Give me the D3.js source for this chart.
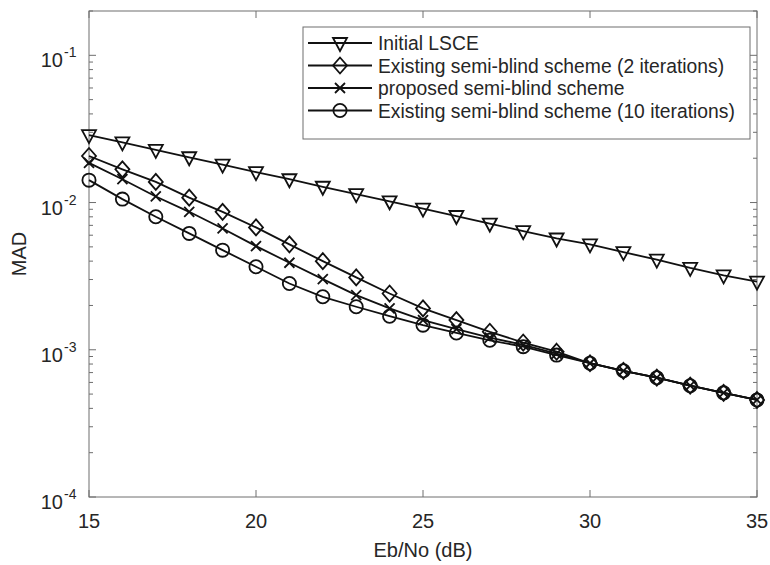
<!DOCTYPE html>
<html>
  <head>
    <script src="https://d3js.org/d3.v7.min.js"></script>
    <style>
      body { margin: 0; background: #fff; }
      text { font-family: "Liberation Sans", Arial, sans-serif; fill: #262626; }
    </style>
  </head>
  <body>
    <script>

    // Eb/No values (dB)
    const ebno = [15, 16, 17, 18, 19, 20, 21, 22, 23, 24, 25, 26, 27, 28, 29, 30, 31, 32, 33, 34, 35];

    const initialLSCE = [0.0287, 0.0256, 0.0228, 0.0203, 0.0181, 0.0161, 0.0144, 0.0128, 0.0114, 0.0102, 0.0091,
      0.0081, 0.0072, 0.0064, 0.0057, 0.0052, 0.0046, 0.0041, 0.0036, 0.0032, 0.0029];
    const existing2 = [0.0207, 0.0168, 0.0138, 0.0108, 0.00865, 0.00678, 0.0052, 0.0040, 0.0031, 0.00241, 0.00191,
      0.00159, 0.001325, 0.00112, 0.00097, 0.00081, 0.00072, 0.000646, 0.00057, 0.00051, 0.000456];
    const proposed = [0.0186, 0.0144, 0.0110, 0.00865, 0.00667, 0.00506, 0.0039, 0.00302, 0.00235, 0.00191, 0.00159,
      0.00138, 0.00121, 0.00108, 0.00094, 0.00081, 0.00072, 0.000646, 0.00057, 0.00051, 0.000456];
    const existing10 = [0.0142, 0.01055, 0.0080, 0.00617, 0.00475, 0.00366, 0.00282, 0.00229, 0.00196, 0.00169, 0.00147,
      0.0013, 0.00116, 0.00105, 0.00092, 0.00081, 0.00072, 0.000646, 0.00057, 0.00051, 0.000456];

    const seriesNames = [
      "Initial LSCE",
      "Existing semi-blind scheme (2 iterations)",
      "proposed semi-blind scheme",
      "Existing semi-blind scheme (10 iterations)"
    ];
    const seriesValues = [initialLSCE, existing2, proposed, existing10];
    const seriesMarkers = ["triangle", "diamond", "cross", "circle"];

    const xTicks = [15, 20, 25, 30, 35];
    const yTicks = [1e-4, 1e-3, 1e-2, 1e-1];
    const yExponents = ["-4", "-3", "-2", "-1"];

    const width = 770, height = 565;
    const margin = {top: 11, right: 13, bottom: 68, left: 89};
    const axisColor = "#6e6e6e";

    const x = d3.scaleLinear().domain([15, 35]).range([margin.left, width - margin.right]);
    const y = d3.scaleLog().domain([1e-4, 0.2]).range([height - margin.bottom, margin.top]);

    const svg = d3.select("body").append("svg")
        .attr("width", width)
        .attr("height", height);

    // minor ticks on the log axis
    let minor = [];
    [1e-4, 1e-3, 1e-2, 1e-1].forEach(d => {
      for (let k = 2; k <= 9; k++) {
        if (d * k <= 0.2) minor.push(d * k);
      }
    });

    const tickG = svg.append("g").attr("stroke", axisColor).attr("stroke-width", 1);
    const x0 = x.range()[0], x1 = x.range()[1];
    const y0 = y.range()[0], y1 = y.range()[1];

    // ticks inside, on both sides
    xTicks.forEach(t => {
      tickG.append("line").attr("x1", x(t)).attr("x2", x(t)).attr("y1", y0).attr("y2", y0 - 7);
      tickG.append("line").attr("x1", x(t)).attr("x2", x(t)).attr("y1", y1).attr("y2", y1 + 7);
    });
    yTicks.forEach(t => {
      tickG.append("line").attr("x1", x0).attr("x2", x0 + 7).attr("y1", y(t)).attr("y2", y(t));
      tickG.append("line").attr("x1", x1).attr("x2", x1 - 7).attr("y1", y(t)).attr("y2", y(t));
    });
    minor.forEach(t => {
      tickG.append("line").attr("x1", x0).attr("x2", x0 + 4).attr("y1", y(t)).attr("y2", y(t));
      tickG.append("line").attr("x1", x1).attr("x2", x1 - 4).attr("y1", y(t)).attr("y2", y(t));
    });

    // box
    svg.append("rect")
        .attr("x", x0).attr("y", y1)
        .attr("width", x1 - x0).attr("height", y0 - y1)
        .attr("fill", "none").attr("stroke", axisColor).attr("stroke-width", 1);

    // tick labels
    svg.append("g").selectAll("text")
      .data(xTicks)
      .enter().append("text")
        .attr("x", d => x(d))
        .attr("y", y0 + 31)
        .attr("text-anchor", "middle")
        .style("font-size", "20px")
        .text(d => d);

    yTicks.forEach((t, i) => {
      svg.append("text")
          .attr("x", x0 - 26).attr("y", y(t) + 12)
          .attr("text-anchor", "end")
          .style("font-size", "20px")
          .text("10");
      svg.append("text")
          .attr("x", x0 - 25).attr("y", y(t) + 2)
          .style("font-size", "14px")
          .text(yExponents[i]);
    });

    // axis labels
    svg.append("text")
        .attr("x", (x0 + x1) / 2).attr("y", height - 8)
        .attr("text-anchor", "middle")
        .style("font-size", "20px")
        .text("Eb/No (dB)");
    svg.append("text")
        .attr("transform", `translate(26,${(y0 + y1) / 2}) rotate(-90)`)
        .attr("text-anchor", "middle")
        .style("font-size", "20px")
        .text("MAD");

    // markers
    function drawMarker(g, type, cx, cy) {
      if (type === "triangle") {
        g.append("path").attr("d", `M${cx - 7},${cy - 5}L${cx + 7},${cy - 5}L${cx},${cy + 8}Z`);
      } else if (type === "diamond") {
        g.append("path").attr("d", `M${cx},${cy - 8}L${cx + 7},${cy}L${cx},${cy + 8}L${cx - 7},${cy}Z`);
      } else if (type === "circle") {
        g.append("circle").attr("cx", cx).attr("cy", cy).attr("r", 6.6);
      } else {
        g.append("path").attr("d", `M${cx - 5},${cy - 5}L${cx + 5},${cy + 5}M${cx - 5},${cy + 5}L${cx + 5},${cy - 5}`);
      }
    }

    const line = d3.line().x(d => x(d[0])).y(d => y(d[1]));

    seriesValues.forEach((vals, i) => {
      const pts = ebno.map((e, j) => [e, vals[j]]);
      const g = svg.append("g")
          .attr("fill", "none").attr("stroke", "#111").attr("stroke-width", 1.8);
      g.append("path").attr("d", line(pts));
      pts.forEach(p => drawMarker(g, seriesMarkers[i], x(p[0]), y(p[1])));
    });

    // legend
    const legend = svg.append("g");
    legend.append("rect")
        .attr("x", 303).attr("y", 27)
        .attr("width", 447).attr("height", 112)
        .attr("fill", "#fff").attr("stroke", axisColor).attr("stroke-width", 1);

    seriesNames.forEach((name, i) => {
      const ly = 43 + i * 22.5;
      const g = legend.append("g")
          .attr("fill", "none").attr("stroke", "#111").attr("stroke-width", 1.8);
      g.append("line").attr("x1", 308).attr("x2", 372).attr("y1", ly).attr("y2", ly);
      drawMarker(g, seriesMarkers[i], 340, ly);
      legend.append("text")
          .attr("x", 378).attr("y", ly + 7)
          .style("font-size", "19.3px")
          .text(name);
    });

    </script>
  </body>
</html>
